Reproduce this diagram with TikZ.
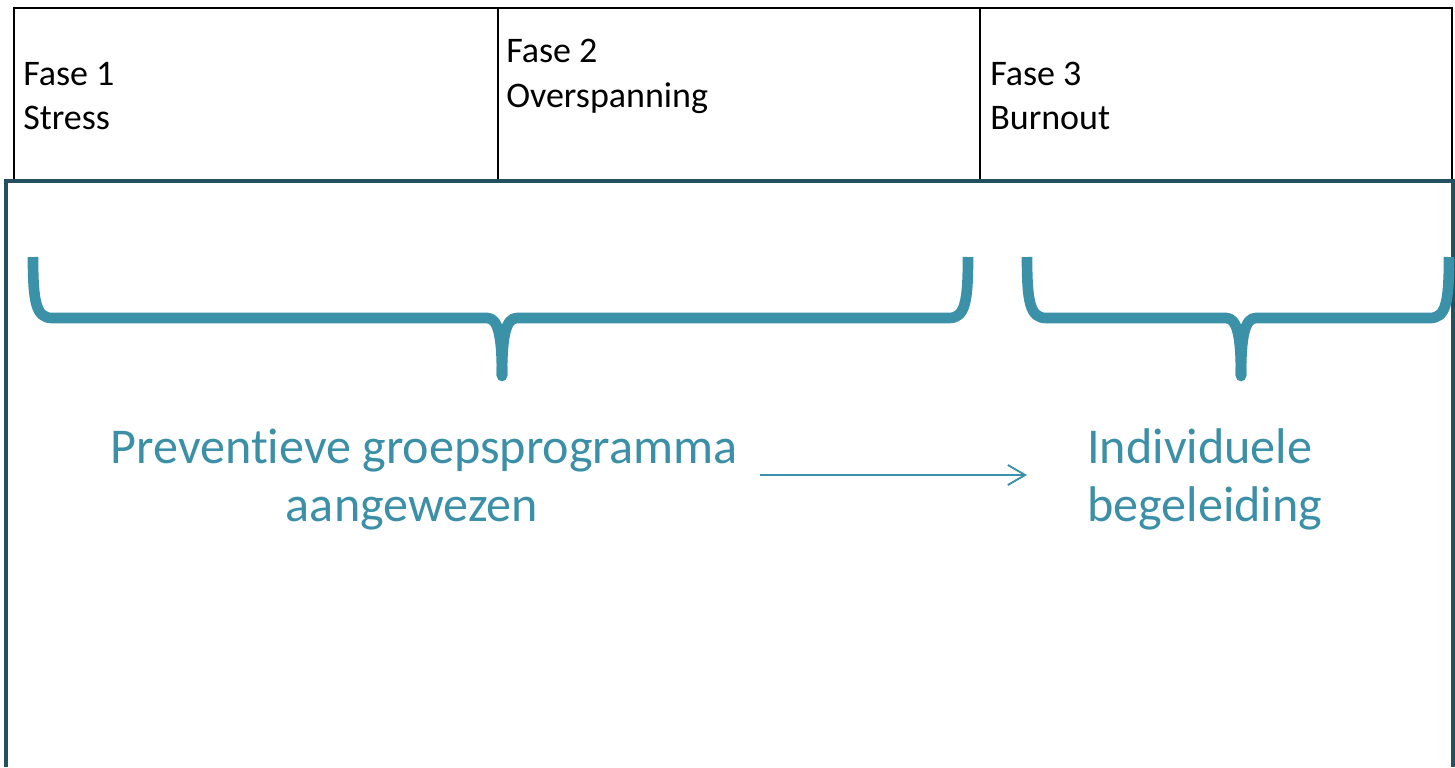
\documentclass[tikz,border=0pt]{standalone}
\usepackage{fontspec}
\setmainfont{Carlito}[Ligatures=NoCommon]
\usetikzlibrary{arrows.meta}
\definecolor{braceblue}{HTML}{3A91A8}
\definecolor{labelblue}{HTML}{3B8FA6}
\definecolor{boxline}{HTML}{24505F}
\begin{document}
\begin{tikzpicture}[x=0.75pt,y=-0.75pt,
  hdr/.style={anchor=base west, inner sep=0pt, font=\fontsize{27}{33}\selectfont, text=black},
  lbl/.style={inner sep=0pt, font=\fontsize{37.6}{45}\selectfont, text=labelblue},
  cell/.style={draw=black, line width=1.5pt},
  frame/.style={draw=boxline, line width=2.3pt},
  brace/.style={draw=braceblue, line width=8pt, line cap=butt, line join=round},
  tipdot/.style={fill=braceblue},
  arr/.style={draw=braceblue, line width=1.4pt,
    -{Straight Barb[length=13pt,width=15pt,line width=1.4pt]}}
]
\useasboundingbox (0,0) rectangle (1455,767);

% phase header cells
\draw[cell] (14,8) rectangle (498,180);
\draw[cell] (498,8) rectangle (980,180);
\draw[cell] (980,8) rectangle (1452,180);

% open frame below the header
\draw[frame] (6,767) -- (6,181) -- (1453,181) -- (1453,767);

% header texts
\node[hdr] (f1) at (23,85) {Fase 1};
\node[hdr] (f1b) at (23,129) {Stress};
\node[hdr] (f2) at (506,63) {Fase 2};
\node[hdr] (f2b) at (506,107) {Overspanning};
\node[hdr] (f3) at (990,85) {Fase 3};
\node[hdr] (f3b) at (990,129) {Burnout};

% brace over phases 1 and 2
\draw[brace] (33,257) .. controls (33,302) and (36,318) .. (52,318)
  -- (487,318) .. controls (498,318) and (502,335) .. (502,376);
\draw[brace] (968,257) .. controls (968,302) and (965,318) .. (949,318)
  -- (517,318) .. controls (506,318) and (502,335) .. (502,376);
\fill[tipdot] (502,376) circle[radius=4pt];

% brace over phase 3
\draw[brace] (1027,257) .. controls (1027,302) and (1030,318) .. (1046,318)
  -- (1226,318) .. controls (1237,318) and (1241,335) .. (1241,376);
\draw[brace] (1449,257) .. controls (1449,302) and (1446,318) .. (1430,318)
  -- (1256,318) .. controls (1245,318) and (1241,335) .. (1241,376);
\fill[tipdot] (1241,376) circle[radius=4pt];

% labels
\node[lbl, anchor=base] (prev) at (424,463) {Preventieve groepsprogramma};
\node[lbl, anchor=base] (prevb) at (412,521) {aangewezen};
\node[lbl, anchor=base west] (indiv) at (1087,463) {Individuele};
\node[lbl, anchor=base west] (indivb) at (1087,521) {begeleiding};

% arrow from group programme to individual guidance
\coordinate (arrS) at (760,475);
\coordinate (arrE) at (1027,475);
\draw[arr] (arrS) -- (arrE);
\end{tikzpicture}
\end{document}
